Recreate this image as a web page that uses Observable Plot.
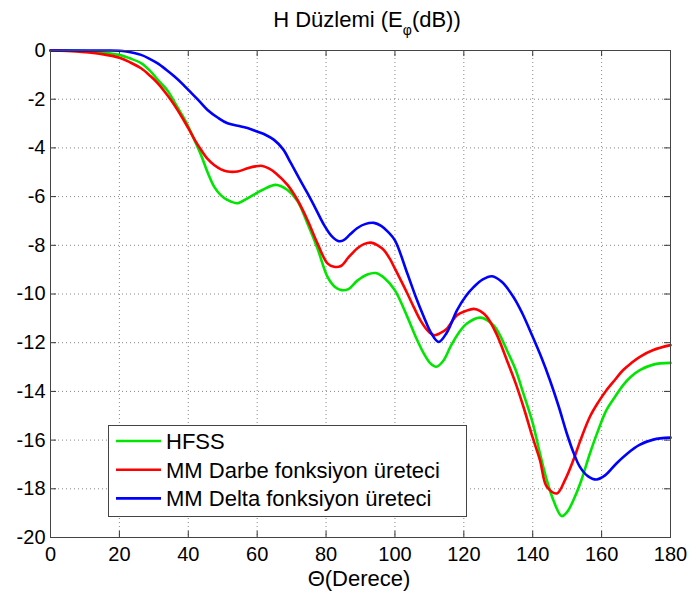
<!DOCTYPE html>
<html><head><meta charset="utf-8">
<script src="https://cdn.jsdelivr.net/npm/d3@7"></script>
<script src="https://cdn.jsdelivr.net/npm/@observablehq/plot@0.6"></script>
<style>body{margin:0;background:#fff}</style>
</head><body><div id="chart"></div>
<script>
// ---- data ----
const hfssTheta = [0,5,10,15,20,23,26.3,29,31.1,34,35.9,38,40,42,43.7,45.6,47.5,49.5,51.4,54.3,57.2,61.5,65.4,68.8,71.7,74.6,77.5,80.4,82.5,84.5,86.5,89.1,92,94.4,97,100,103.6,106,108.4,110.3,112,114,116.1,118.5,120.9,124.8,128.6,130.5,132.5,135,137.3,140,142.1,144,146,148.4,150,151.8,154,156.6,159,161.4,164,166.2,168.5,171.1,175,180];
const hfssDb = [0,0,-0.02,-0.08,-0.18,-0.32,-0.52,-0.85,-1.2,-1.65,-2.1,-2.6,-3.12,-3.75,-4.29,-5.0,-5.59,-5.95,-6.14,-6.27,-6.07,-5.73,-5.52,-5.73,-6.18,-7.1,-8.12,-9.29,-9.7,-9.84,-9.8,-9.45,-9.2,-9.14,-9.35,-9.85,-10.94,-11.75,-12.45,-12.85,-12.99,-12.75,-12.17,-11.6,-11.21,-10.97,-11.28,-11.7,-12.31,-13.1,-14.09,-15.3,-16.55,-17.6,-18.47,-19.12,-18.95,-18.47,-17.7,-16.55,-15.6,-14.77,-14.2,-13.75,-13.4,-13.13,-12.9,-12.83];

const darbeTheta = [0,5,10,15,20,23,26.3,29,31.1,34,35.9,38,40,42,43.7,45.6,47.5,49.5,51.4,54.3,57.2,59.5,61.5,63.5,65.4,68.8,71.7,74.6,77.5,80.4,82.3,84.3,86.5,89.1,91,93,95,96.8,98.5,100,103.6,105.5,107.4,109.5,111.3,113,115.1,118,120.5,122.9,124.8,126.7,129.5,132.5,135,137.3,140,142.1,144.1,147,149.5,151.8,154,156.6,159,161.4,164,166.2,168.5,171.1,175,180];
const darbeDb = [0,-0.02,-0.07,-0.15,-0.3,-0.48,-0.73,-1.05,-1.34,-1.85,-2.23,-2.7,-3.19,-3.7,-4.08,-4.45,-4.7,-4.88,-4.97,-4.97,-4.84,-4.76,-4.74,-4.85,-5.04,-5.52,-6.14,-6.96,-7.92,-8.74,-8.88,-8.85,-8.5,-8.12,-7.95,-7.89,-8.0,-8.2,-8.55,-8.96,-9.98,-10.55,-11.08,-11.5,-11.69,-11.62,-11.42,-10.87,-10.7,-10.61,-10.7,-10.94,-11.65,-12.72,-13.65,-14.63,-15.9,-16.82,-17.92,-18.19,-17.6,-16.82,-15.95,-15.04,-14.45,-13.95,-13.5,-13.13,-12.85,-12.58,-12.3,-12.1];

const deltaTheta = [0,10,16.6,20,22,24.3,26.3,28.5,31,33.5,36,38,40,43,45.6,48.5,51.4,55.3,58,60,62.5,64.9,67.5,69.8,72.2,74.6,77,79.4,81.5,83.5,85,87,89,91.5,93.9,96,98,100,103.6,106,108.4,110.5,112.7,115,118,120.5,122.9,125.5,128.2,131,134.4,137,140,142.5,145,147.5,149.9,151.8,153.7,156,158.5,161,164.3,167.5,171,175,180];
const deltaDb = [0,0,0,-0.01,-0.04,-0.1,-0.18,-0.32,-0.52,-0.78,-1.07,-1.33,-1.62,-2.05,-2.44,-2.75,-2.99,-3.12,-3.22,-3.33,-3.47,-3.67,-4.05,-4.63,-5.25,-5.86,-6.5,-7.16,-7.6,-7.82,-7.8,-7.55,-7.3,-7.12,-7.08,-7.2,-7.45,-7.8,-9.16,-10.1,-10.94,-11.6,-11.97,-11.6,-10.67,-10.1,-9.71,-9.4,-9.27,-9.5,-10.12,-10.8,-11.76,-12.6,-13.54,-14.6,-15.73,-16.5,-17.1,-17.48,-17.62,-17.45,-16.96,-16.55,-16.2,-15.98,-15.9];

const seriesNames = ["HFSS", "MM Darbe fonksiyon üreteci", "MM Delta fonksiyon üreteci"];
const seriesColors = ["#00e600", "#ff0000", "#0000ff"];
const xTicks = [0,20,40,60,80,100,120,140,160,180];
const yTicks = [0,-2,-4,-6,-8,-10,-12,-14,-16,-18,-20];
const xLabel = "Θ(Derece)";

// ---- build rows ----
const thetaSets = [hfssTheta, darbeTheta, deltaTheta];
const dbSets = [hfssDb, darbeDb, deltaDb];
const rows = [];
seriesNames.forEach((name, i) => {
  thetaSets[i].forEach((t, j) => rows.push({series: name, theta: t, db: dbSets[i][j]}));
});

const FONT = "'Liberation Sans', Arial, Helvetica, sans-serif";
const xInner = xTicks.slice(1, -1);
const yInner = yTicks.slice(1, -1);

const plot = Plot.plot({
  width: 692,
  height: 599,
  marginLeft: 50,
  marginRight: 22,
  marginTop: 50,
  marginBottom: 62,
  style: {fontFamily: FONT, fontSize: "20px", color: "#000", background: "#fff"},
  x: {domain: [0, 180]},
  y: {domain: [-20, 0]},
  color: {domain: seriesNames, range: seriesColors},
  marks: [
    Plot.ruleX(xInner, {stroke: "#888", strokeDasharray: "1,3", strokeWidth: 1}),
    Plot.ruleY(yInner, {stroke: "#888", strokeDasharray: "1,3", strokeWidth: 1}),
    // inward tick marks (bottom/top, left/right)
    Plot.ruleX(xInner, {y1: -20, y2: -19.75, stroke: "#333"}),
    Plot.ruleX(xInner, {y1: 0, y2: -0.25, stroke: "#333"}),
    Plot.ruleY(yInner, {x1: 0, x2: 1.75, stroke: "#333"}),
    Plot.ruleY(yInner, {x1: 180, x2: 178.25, stroke: "#333"}),
    Plot.line(rows, {x: "theta", y: "db", z: "series", stroke: "series", strokeWidth: 2.6, curve: "catmull-rom"}),
    Plot.frame({stroke: "#444", strokeWidth: 1}),
    Plot.axisX({ticks: xTicks, tickSize: 0, tickPadding: 9, fontSize: 20, label: null}),
    Plot.axisY({ticks: yTicks, tickSize: 0, tickPadding: 5, fontSize: 20, label: null, tickFormat: d => String(d)})
  ]
});

const svg = d3.select(plot);
// title with subscript phi
const title = svg.append("text")
  .attr("x", 367).attr("y", 27)
  .attr("text-anchor", "middle")
  .attr("font-family", FONT).attr("font-size", 22).attr("fill", "#000");
title.append("tspan").text("H Düzlemi (E");
title.append("tspan").attr("dy", 8).attr("font-size", 14).text("φ");
title.append("tspan").attr("dy", -8).text("(dB))");

// x-axis label
svg.append("text")
  .attr("x", 359).attr("y", 586)
  .attr("text-anchor", "middle")
  .attr("font-family", FONT).attr("font-size", 22).attr("fill", "#000")
  .text(xLabel);

// legend
const lg = svg.append("g").attr("text-anchor", "start");
lg.append("rect").attr("x", 108.5).attr("y", 425.5).attr("width", 358).attr("height", 91)
  .attr("fill", "#fff").attr("stroke", "#444").attr("stroke-width", 1);
seriesNames.forEach((name, i) => {
  const yy = 441 + i * 28.7;
  lg.append("line").attr("x1", 116).attr("x2", 161).attr("y1", yy).attr("y2", yy)
    .attr("stroke", seriesColors[i]).attr("stroke-width", 2.6);
  lg.append("text").attr("x", 166).attr("y", yy + 8).attr("text-anchor", "start")
    .attr("font-family", FONT).attr("font-size", 22).attr("fill", "#000").text(name);
});

document.getElementById("chart").appendChild(plot);
</script>
</body></html>
